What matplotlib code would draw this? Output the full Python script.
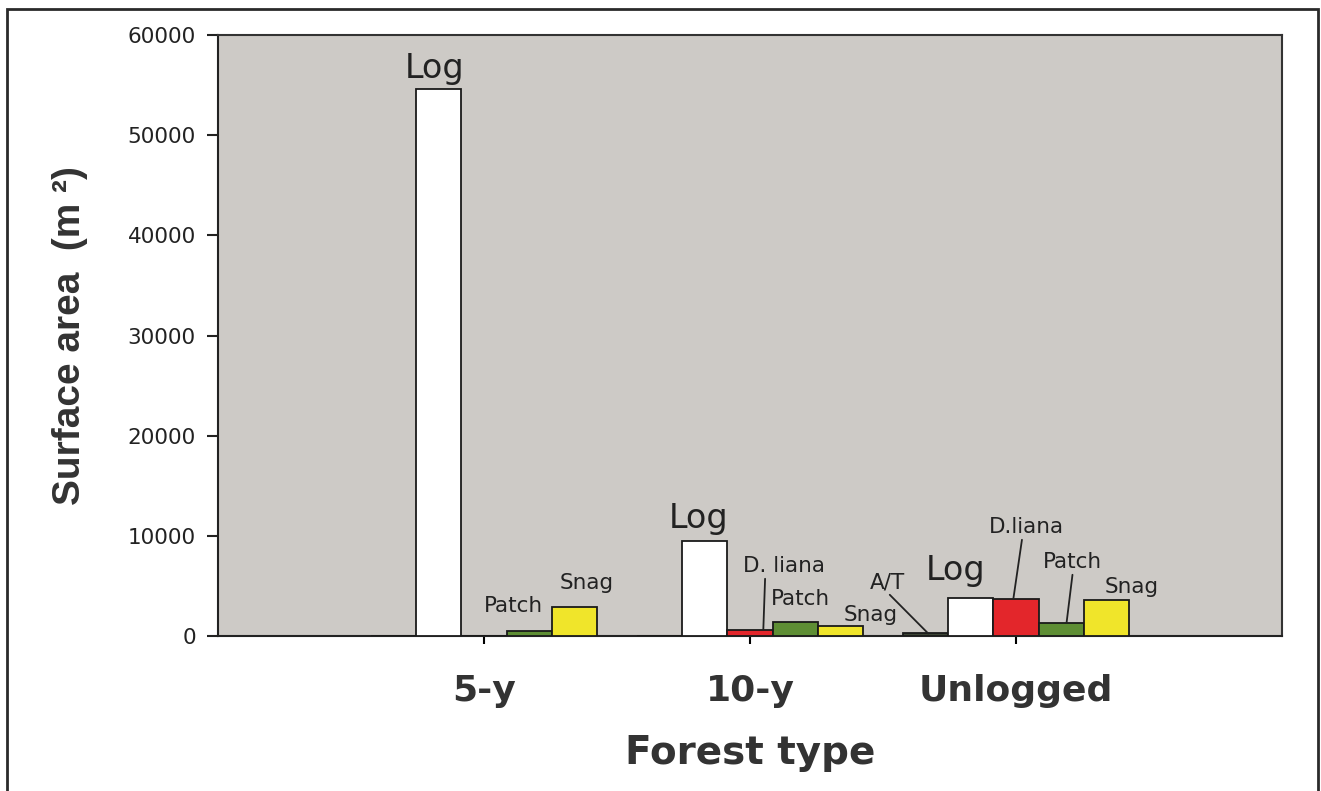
import matplotlib
matplotlib.use("Agg")
import matplotlib.pyplot as plt
from matplotlib.patches import Rectangle
import numpy as np

# ---- data ----
forest_types = ["5-y", "10-y", "Unlogged"]
series_names = ["A/T", "Log", "D.liana", "Patch", "Snag"]
at_vals = [0, 0, 250]
log_vals = [54600, 9500, 3800]
dliana_vals = [0, 600, 3700]
patch_vals = [500, 1400, 1300]
snag_vals = [2900, 1000, 3600]
yticks = [0, 10000, 20000, 30000, 40000, 50000, 60000]

series_vals = [at_vals, log_vals, dliana_vals, patch_vals, snag_vals]
colors = ["#3c4434", "#ffffff", "#e3262b", "#5e8e34", "#f0e52a"]

fig = plt.figure(figsize=(13.21, 7.91), dpi=100)
fig.patch.set_facecolor("white")
ax = fig.add_axes([218/1321, 155/791, 1064/1321, 601/791])
ax.set_facecolor("#cdcac6")

x = np.arange(1, len(forest_types) + 1)
w = 0.17
offsets = [-2, -1, 0, 1, 2]
for vals, col, off in zip(series_vals, colors, offsets):
    ax.bar(x + off * w, vals, width=w, color=col, edgecolor="#1a1a1a", linewidth=1.3, zorder=3)

ax.set_xlim(0, 4)
ax.set_ylim(0, 60000)
ax.set_yticks(yticks)
ax.set_yticklabels([str(t) for t in yticks], fontsize=15.5, family="DejaVu Sans", color="#222222")
ax.set_xticks(x)
ax.set_xticklabels(forest_types, fontsize=26, fontweight="bold", family="DejaVu Sans", color="#333333")
ax.tick_params(axis="y", direction="out", length=8, width=1.5, pad=8, colors="#222222")
ax.tick_params(axis="x", direction="out", length=6, width=1.5, pad=21)
for s in ax.spines.values():
    s.set_linewidth(1.5)
    s.set_color("#333333")
ax.spines["left"].set_color("#222222")
ax.spines["bottom"].set_color("#222222")

ax.set_xlabel("Forest type", fontsize=28, fontweight="bold", family="DejaVu Sans",
              color="#333333", labelpad=19)
ax.set_ylabel("Surface area  (m \u00b2)", fontsize=28, fontweight="bold",
              family="Liberation Sans", color="#333333")
ax.yaxis.set_label_coords(-0.122, 0.5)

big = dict(fontsize=24, family="DejaVu Sans", color="#222222", ha="center", va="center", zorder=5)
small = dict(fontsize=15.5, family="DejaVu Sans", color="#222222", ha="center", va="center", zorder=5)

# plain labels (text positions in data coords)
ax.text(0.816, 56700, "Log", **big)
ax.text(1.109, 2995, "Patch", **small)
ax.text(1.387, 5291, "Snag", **small)
ax.text(1.808, 11780, "Log", **big)
ax.text(2.188, 3694, "Patch", **small)
ax.text(2.455, 2096, "Snag", **small)
ax.text(2.771, 6589, "Log", **big)
ax.text(3.436, 4892, "Snag", **small)

lp = dict(arrowstyle="-", color="#222222", lw=1.3, shrinkA=0, shrinkB=0)
# leader-line labels
ax.annotate("D. liana", xy=(x[1] + 0.05, dliana_vals[1]), xytext=(2.128, 6988),
            arrowprops=dict(relpos=(0.27, 0.0), **lp), **small)
ax.annotate("A/T", xy=(x[2] - 2 * w + 0.01, at_vals[2]), xytext=(2.515, 5391),
            arrowprops=dict(relpos=(0.5, 0.0), **lp), **small)
ax.annotate("D.liana", xy=(x[2] - 0.01, dliana_vals[2]), xytext=(3.038, 10882),
            arrowprops=dict(relpos=(0.45, 0.0), **lp), **small)
ax.annotate("Patch", xy=(x[2] + w + 0.02, patch_vals[2]), xytext=(3.211, 7388),
            arrowprops=dict(relpos=(0.52, 0.2), **lp), **small)

# outer frame
fig.add_artist(Rectangle((7/1321, -0.02), 1311/1321, (791 - 9)/791 + 0.02,
                         transform=fig.transFigure, fill=False,
                         edgecolor="#2a2a2a", linewidth=2))

fig.savefig("out.png", dpi=100)
